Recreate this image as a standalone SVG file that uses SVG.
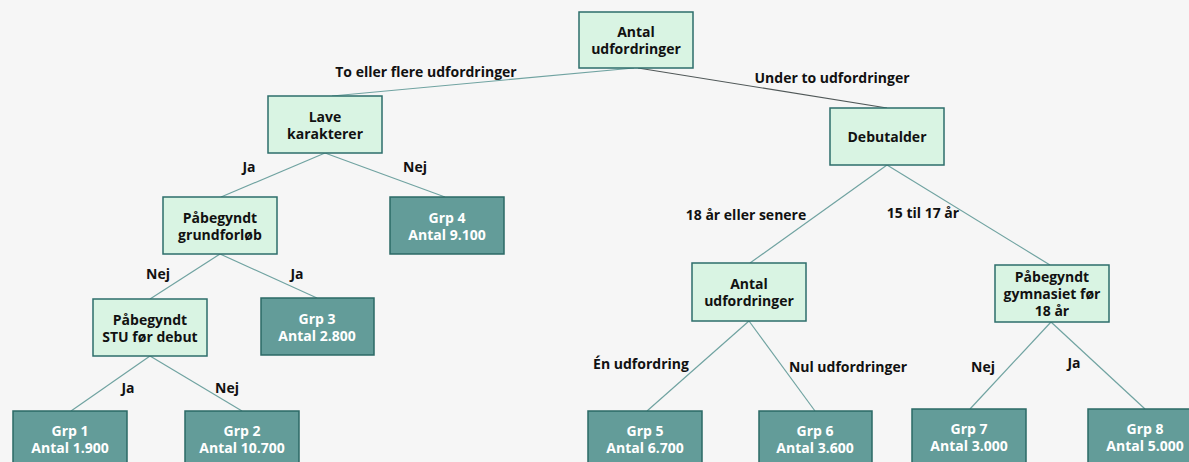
<svg xmlns="http://www.w3.org/2000/svg" width="1189" height="462" viewBox="0 0 1189 462">
<style>
.l rect{fill:#d9f4e3;stroke:#2d6e6b;stroke-width:1.5}
.d rect{fill:#639c99;stroke:#2b6966;stroke-width:1.5}
text{font-family:"Open Sans","Noto Sans","Liberation Sans",sans-serif;font-weight:bold;font-size:14px;text-anchor:middle}
.l text{fill:#111}
.d text{fill:#ffffff}
.lbl{fill:#111}
.c line{stroke:#70a3a1;stroke-width:1.2}
</style>
<rect width="1189" height="462" fill="#f6f6f6"/>
<g class="c" id="connectors">
<line x1="634" y1="68" x2="332" y2="96"/>
<line x1="638" y1="68" x2="887" y2="108" style="stroke:#505858"/>
<line x1="325" y1="153" x2="221" y2="197"/>
<line x1="325" y1="153" x2="445" y2="197"/>
<line x1="220" y1="254" x2="150" y2="299"/>
<line x1="220" y1="254" x2="317" y2="298"/>
<line x1="150" y1="356" x2="71" y2="411"/>
<line x1="150" y1="356" x2="242" y2="411"/>
<line x1="887" y1="165" x2="750" y2="263"/>
<line x1="887" y1="165" x2="1050" y2="265"/>
<line x1="749" y1="321" x2="647" y2="411"/>
<line x1="749" y1="321" x2="815" y2="411"/>
<line x1="1051" y1="322" x2="970" y2="409"/>
<line x1="1051" y1="322" x2="1145" y2="409"/>
</g>
<g id="labels">
<text class="lbl" x="426" y="77">To eller flere udfordringer</text>
<text class="lbl" x="832" y="83">Under to udfordringer</text>
<text class="lbl" x="249" y="172">Ja</text>
<text class="lbl" x="415" y="172">Nej</text>
<text class="lbl" x="158" y="279">Nej</text>
<text class="lbl" x="297" y="279">Ja</text>
<text class="lbl" x="128" y="393">Ja</text>
<text class="lbl" x="227" y="393">Nej</text>
<text class="lbl" x="746" y="220">18 år eller senere</text>
<text class="lbl" x="923" y="218">15 til 17 år</text>
<text class="lbl" x="641" y="369">Én udfordring</text>
<text class="lbl" x="848" y="372">Nul udfordringer</text>
<text class="lbl" x="983" y="372">Nej</text>
<text class="lbl" x="1074" y="368">Ja</text>
</g>
<g id="n-root" class="l"><rect x="579" y="12" width="114" height="56"/><text x="636" y="37">Antal</text><text x="636" y="54">udfordringer</text></g>
<g id="n-lave" class="l"><rect x="268" y="96" width="114" height="57"/><text x="325" y="122">Lave</text><text x="325" y="139">karakterer</text></g>
<g id="n-debut" class="l"><rect x="830" y="108" width="114" height="57"/><text x="887" y="142">Debutalder</text></g>
<g id="n-grund" class="l"><rect x="163" y="197" width="114" height="57"/><text x="220" y="223">Påbegyndt</text><text x="220" y="240">grundforløb</text></g>
<g id="n-grp4" class="d"><rect x="390" y="197" width="114" height="57"/><text x="447" y="223">Grp 4</text><text x="447" y="240">Antal 9.100</text></g>
<g id="n-stu" class="l"><rect x="93" y="299" width="114" height="57"/><text x="150" y="325">Påbegyndt</text><text x="150" y="342">STU før debut</text></g>
<g id="n-grp3" class="d"><rect x="261" y="298" width="113" height="57"/><text x="317" y="324">Grp 3</text><text x="317" y="341">Antal 2.800</text></g>
<g id="n-grp1" class="d"><rect x="13" y="411" width="114" height="57"/><text x="70" y="436">Grp 1</text><text x="70" y="453">Antal 1.900</text></g>
<g id="n-grp2" class="d"><rect x="185" y="411" width="114" height="57"/><text x="242" y="436">Grp 2</text><text x="242" y="453">Antal 10.700</text></g>
<g id="n-antal2" class="l"><rect x="692" y="263" width="114" height="58"/><text x="749" y="289">Antal</text><text x="749" y="306">udfordringer</text></g>
<g id="n-gym" class="l"><rect x="995" y="265" width="114" height="57"/><text x="1052" y="282">Påbegyndt</text><text x="1052" y="299">gymnasiet før</text><text x="1052" y="316">18 år</text></g>
<g id="n-grp5" class="d"><rect x="588" y="411" width="114" height="57"/><text x="645" y="436">Grp 5</text><text x="645" y="453">Antal 6.700</text></g>
<g id="n-grp6" class="d"><rect x="759" y="411" width="113" height="57"/><text x="815" y="436">Grp 6</text><text x="815" y="453">Antal 3.600</text></g>
<g id="n-grp7" class="d"><rect x="912" y="409" width="114" height="57"/><text x="969" y="434">Grp 7</text><text x="969" y="451">Antal 3.000</text></g>
<g id="n-grp8" class="d"><rect x="1088" y="409" width="114" height="57"/><text x="1145" y="434">Grp 8</text><text x="1145" y="451">Antal 5.000</text></g>
</svg>
